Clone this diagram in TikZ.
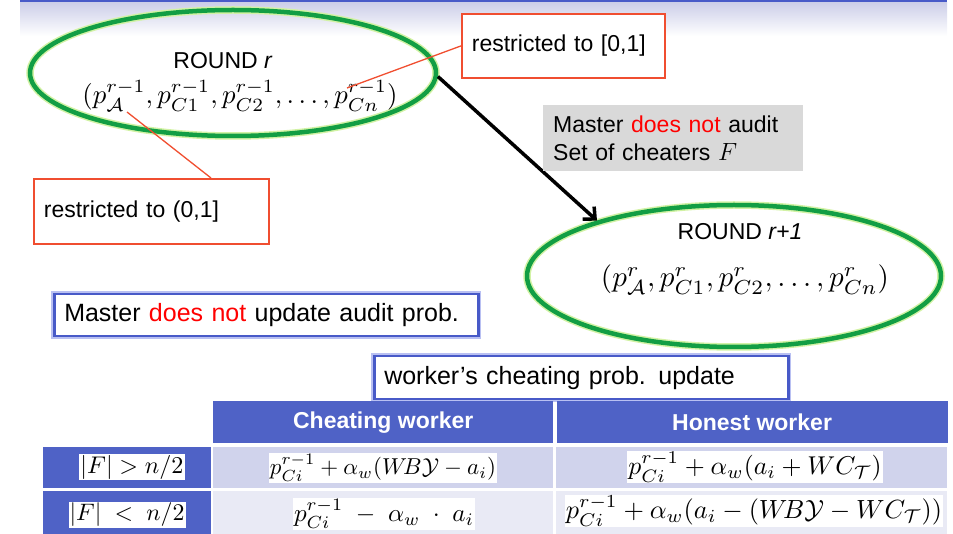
\documentclass[tikz,border=0pt]{standalone}
\usepackage{amsmath,amssymb}
\usepackage{graphicx}
\usepackage{fontspec}
\setmainfont{Liberation Sans}
\usepackage{xcolor}
\usetikzlibrary{positioning,arrows.meta,shapes.geometric,calc}
\definecolor{rndgreen}{RGB}{18,158,68}
\definecolor{rndglow}{RGB}{210,242,165}
\definecolor{limred}{RGB}{240,78,48}
\definecolor{notegrey}{RGB}{217,217,217}
\definecolor{updblue}{RGB}{72,90,200}
\definecolor{updglow}{RGB}{185,192,242}
\definecolor{hdrblue}{RGB}{79,98,198}
\definecolor{rowa}{RGB}{208,211,236}
\definecolor{rowb}{RGB}{233,234,245}
\definecolor{topband}{RGB}{205,207,233}
\tikzset{
  txt/.style={font=\fontsize{23}{28}\selectfont, inner sep=0pt},
  rnd/.style={draw=rndgreen, line width=4.5pt, ellipse, inner sep=0pt, preaction={draw=rndglow, line width=7.5pt}},
  lim/.style={draw=limred, line width=1.8pt, fill=white, font=\fontsize{23}{28}\selectfont, align=left, anchor=north west, inner xsep=10pt},
  note/.style={fill=notegrey, font=\fontsize{23}{28}\selectfont, align=left, anchor=north west, inner xsep=10pt},
  upd/.style={draw=updblue, line width=2.5pt, fill=white, preaction={draw=updglow, line width=6pt}, font=\fontsize{25}{30}\selectfont, align=left, anchor=north west, inner xsep=10pt},
  hdr/.style={fill=hdrblue, text=white, font=\fontsize{23}{28}\selectfont\bfseries, anchor=north west, inner sep=0pt},
  cell/.style={anchor=north west, inner sep=0pt},
  mth/.style={fill=white, inner sep=1pt},
  lead/.style={draw=limred, line width=1.3pt},
  arr/.style={-{Straight Barb[length=9pt,width=17pt]}, line width=3.5pt},
}
\begin{document}
\begin{tikzpicture}[x=1pt,y=-1pt]
\useasboundingbox (0,0) rectangle (953,534);
% slide band along the top
\fill[updblue] (20,0) rectangle (947,3);
\shade[top color=topband, bottom color=white] (20,3) rectangle (947,36);
% the two rounds
\node[rnd, minimum width=406pt, minimum height=126pt] (e1) at (233,73) {};
\node[txt] (rd1) at (223,61) {ROUND \textit{r}};
\node[inner sep=0pt] (tp1) at (240,96) {\resizebox{315pt}{!}{$(p^{r-1}_{\mathcal{A}},p^{r-1}_{C1},p^{r-1}_{C2},\ldots,p^{r-1}_{Cn})$}};
\node[rnd, minimum width=414pt, minimum height=142pt] (e2) at (734,276) {};
\node[txt] (rd2) at (740,232) {ROUND \textit{r+1}};
\node[inner sep=0pt] (tp2) at (745,280) {\resizebox{288pt}{!}{$(p^{r}_{\mathcal{A}},p^{r}_{C1},p^{r}_{C2},\ldots,p^{r}_{Cn})$}};
\draw[arr] (e1.-1) -- (e2.158);
% range notes
\node[lim, minimum width=203pt, minimum height=64pt, text width=183pt] (lim1) at (461,13) {restricted to [0,1]};
\node[lim, minimum width=235pt, minimum height=65pt, text width=215pt] (lim2) at (33,178) {restricted to (0,1]};
\coordinate (pcn) at (347,88);
\coordinate (pa) at (127,112);
\draw[lead] (pcn) -- (lim1.west);
\draw[lead] (pa) -- ($(lim2.north west)+(178,0)$);
\node[note, minimum width=260pt, minimum height=66pt, text width=240pt] (aud) at (543,105) {Master \textcolor{red}{does not} audit\\Set of cheaters $F$};
\node[upd, minimum width=424pt, minimum height=42pt, text width=404pt] (nupd) at (53,293) {Master \textcolor{red}{does not} update audit prob.};
\node[upd, minimum width=414pt, minimum height=43pt, text width=394pt] (wupd) at (373,355) {worker’s cheating prob. update};
% update table
\node[hdr, minimum width=340pt, minimum height=42pt] (hcheat) at (213,401) {Cheating worker};
\node[hdr, minimum width=391pt, minimum height=42pt, right=3pt of hcheat] (hhon) {Honest worker};
\node[cell, fill=hdrblue, minimum width=168pt, minimum height=41pt] (f1) at (43,447) {};
\node[cell, fill=rowa, minimum width=340pt, minimum height=41pt] (c1) at (213,447) {};
\node[cell, fill=rowa, minimum width=391pt, minimum height=41pt] (h1) at (556,447) {};
\node[cell, fill=hdrblue, minimum width=168pt, minimum height=43pt] (f2) at (43,491) {};
\node[cell, fill=rowb, minimum width=340pt, minimum height=43pt] (c2) at (213,491) {};
\node[cell, fill=rowb, minimum width=391pt, minimum height=43pt] (h2) at (556,491) {};
\node[mth] (mf1) at (132,467) {\resizebox{103pt}{!}{$|F|>n/2$}};
\node[mth] (mc1) at (383,468) {\resizebox{226pt}{!}{$p^{r-1}_{Ci}+\alpha_w(W\!B\mathcal{Y}-a_i)$}};
\node[mth] (mh1) at (755,467) {\resizebox{253pt}{!}{$p^{r-1}_{Ci}+\alpha_w(a_i+WC_{\mathcal{T}})$}};
\node[mth] (mf2) at (127,515) {\resizebox{115pt}{!}{$|F|\;<\;n/2$}};
\node[mth] (mc2) at (384,514) {\resizebox{180pt}{!}{$p^{r-1}_{Ci}\;-\;\alpha_w\;\cdot\;a_i$}};
\node[mth] (mh2) at (754,511) {\resizebox{376pt}{!}{$p^{r-1}_{Ci}+\alpha_w(a_i-(W\!B\mathcal{Y}-WC_{\mathcal{T}}))$}};
\end{tikzpicture}
\end{document}
